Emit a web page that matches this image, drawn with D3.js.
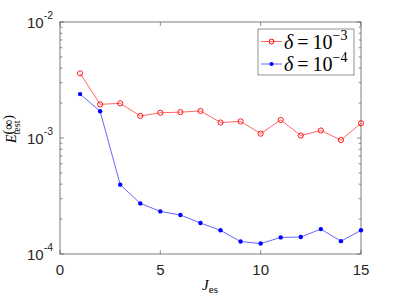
<!DOCTYPE html>
<html>
<head>
<meta charset="utf-8">
<script src="https://cdn.jsdelivr.net/npm/d3@7"></script>
<style>
  body { margin: 0; background: #fff; }
</style>
</head>
<body>
<script>
const J = [1, 2, 3, 4, 5, 6, 7, 8, 9, 10, 11, 12, 13, 14, 15];
const err3 = [3.61e-3, 1.95e-3, 1.99e-3, 1.55e-3, 1.65e-3, 1.67e-3, 1.71e-3, 1.36e-3, 1.39e-3, 1.09e-3, 1.43e-3, 1.05e-3, 1.16e-3, 9.6e-4, 1.34e-3];
const err4 = [2.39e-3, 1.70e-3, 3.96e-4, 2.73e-4, 2.33e-4, 2.17e-4, 1.85e-4, 1.60e-4, 1.28e-4, 1.23e-4, 1.39e-4, 1.40e-4, 1.64e-4, 1.29e-4, 1.60e-4];
const xTicks = [0, 5, 10, 15];
const yTicks = [-4, -3, -2];  // exponents

const width = 399, height = 299;
const mLeft = 60, mRight = 361, mTop = 22, mBottom = 254;
const sans = '"Liberation Sans", Arial, sans-serif';
const serif = '"Liberation Serif", "Times New Roman", serif';

const svg = d3.select('body').append('svg')
    .attr('width', width)
    .attr('height', height);

const x = d3.scaleLinear().domain([0, 15]).range([mLeft, mRight]);
const y = d3.scaleLog().domain([1e-4, 1e-2]).range([mBottom, mTop]);

const axisCol = '#262626';

// minor ticks on log axis
let minors = [];
for (let e = -4; e < -2; e++) {
    for (let k = 2; k <= 9; k++) minors.push(k * Math.pow(10, e));
}

const g = svg.append('g');

// y ticks (left & right)
yTicks.forEach(e => {
    const yy = y(Math.pow(10, e));
    g.append('line').attr('x1', mLeft).attr('x2', mLeft + 4).attr('y1', yy).attr('y2', yy).attr('stroke', axisCol).attr('stroke-width', 0.5);
    g.append('line').attr('x1', mRight).attr('x2', mRight - 4).attr('y1', yy).attr('y2', yy).attr('stroke', axisCol).attr('stroke-width', 0.5);
    const t = svg.append('text')
        .attr('x', mLeft - 7).attr('y', yy + 6)
        .attr('text-anchor', 'end')
        .style('font-family', sans)
        .attr('font-size', 15)
        .attr('fill', axisCol);
    t.append('tspan').text('10');
    t.append('tspan').attr('dy', -9).attr('font-size', 10.5).text('-' + Math.abs(e));
});
minors.forEach(v => {
    const yy = y(v);
    g.append('line').attr('x1', mLeft).attr('x2', mLeft + 2.5).attr('y1', yy).attr('y2', yy).attr('stroke', axisCol).attr('stroke-width', 0.5);
    g.append('line').attr('x1', mRight).attr('x2', mRight - 2.5).attr('y1', yy).attr('y2', yy).attr('stroke', axisCol).attr('stroke-width', 0.5);
});

// x ticks (bottom & top)
xTicks.forEach(v => {
    const xx = x(v);
    g.append('line').attr('x1', xx).attr('x2', xx).attr('y1', mBottom).attr('y2', mBottom - 4).attr('stroke', axisCol).attr('stroke-width', 0.5);
    g.append('line').attr('x1', xx).attr('x2', xx).attr('y1', mTop).attr('y2', mTop + 4).attr('stroke', axisCol).attr('stroke-width', 0.5);
    svg.append('text')
        .attr('x', xx).attr('y', mBottom + 21)
        .attr('text-anchor', 'middle')
        .style('font-family', sans)
        .attr('font-size', 15)
        .attr('fill', axisCol)
        .text(v);
});

// box
svg.append('rect')
    .attr('x', mLeft).attr('y', mTop)
    .attr('width', mRight - mLeft).attr('height', mBottom - mTop)
    .attr('fill', 'none')
    .attr('stroke', axisCol)
    .attr('stroke-width', 0.6);

// series
const line = d3.line().x((d, i) => x(J[i])).y(d => y(d));

svg.append('path').datum(err3)
    .attr('d', line)
    .attr('fill', 'none')
    .attr('stroke', '#ff0000')
    .attr('stroke-width', 0.6);
svg.selectAll('.c3').data(err3).enter().append('circle')
    .attr('cx', (d, i) => x(J[i])).attr('cy', d => y(d))
    .attr('r', 2.6)
    .attr('fill', 'none')
    .attr('stroke', '#ff0000')
    .attr('stroke-width', 0.9);

svg.append('path').datum(err4)
    .attr('d', line)
    .attr('fill', 'none')
    .attr('stroke', '#0000ff')
    .attr('stroke-width', 0.6);
svg.selectAll('.c4').data(err4).enter().append('circle')
    .attr('cx', (d, i) => x(J[i])).attr('cy', d => y(d))
    .attr('r', 2.2)
    .attr('fill', '#0000ff');

// legend
const lg = svg.append('g');
lg.append('rect')
    .attr('x', 258).attr('y', 29)
    .attr('width', 96).attr('height', 46)
    .attr('fill', '#fff')
    .attr('stroke', axisCol)
    .attr('stroke-width', 0.5);
const entries = [
    {col: '#ff0000', exp: '\u22123', open: true, yy: 41.5},
    {col: '#0000ff', exp: '\u22124', open: false, yy: 64}
];
entries.forEach(e => {
    lg.append('line').attr('x1', 261).attr('x2', 282).attr('y1', e.yy).attr('y2', e.yy)
        .attr('stroke', e.col).attr('stroke-width', 0.6);
    lg.append('circle').attr('cx', 271.5).attr('cy', e.yy)
        .attr('r', e.open ? 2.4 : 2)
        .attr('fill', e.open ? 'none' : e.col)
        .attr('stroke', e.open ? e.col : 'none')
        .attr('stroke-width', 1);
    const t = lg.append('text')
        .attr('x', 284).attr('y', e.yy + 7)
        .style('font-family', serif)
        .attr('font-size', 20)
        .attr('fill', '#000');
    t.append('tspan').attr('font-style', 'italic').text('\u03b4');
    t.append('tspan').attr('dx', 4).text('=');
    t.append('tspan').attr('dx', 4).text('10');
    t.append('tspan').attr('dy', -9).attr('font-size', 14).text(e.exp);
});

// axis labels
const xl = svg.append('text')
    .attr('x', 210).attr('y', 290)
    .attr('text-anchor', 'middle')
    .style('font-family', serif)
    .attr('font-size', 15)
    .attr('fill', '#000');
xl.append('tspan').attr('font-style', 'italic').text('J');
xl.append('tspan').attr('dy', 3).attr('font-size', 11).text('es');

const yl = svg.append('text')
    .attr('transform', 'translate(16,143) rotate(-90)')
    .style('font-family', serif)
    .attr('font-size', 14)
    .attr('fill', '#000');
yl.append('tspan').attr('font-style', 'italic').text('E');
const sub = yl.append('tspan').attr('dy', 4).attr('font-size', 10).text('test');
yl.append('tspan')
    .attr('dx', -sub.node().getComputedTextLength())
    .attr('dy', -7.5)
    .attr('font-size', 14)
    .text('(\u221e)');
</script>
</body>
</html>
